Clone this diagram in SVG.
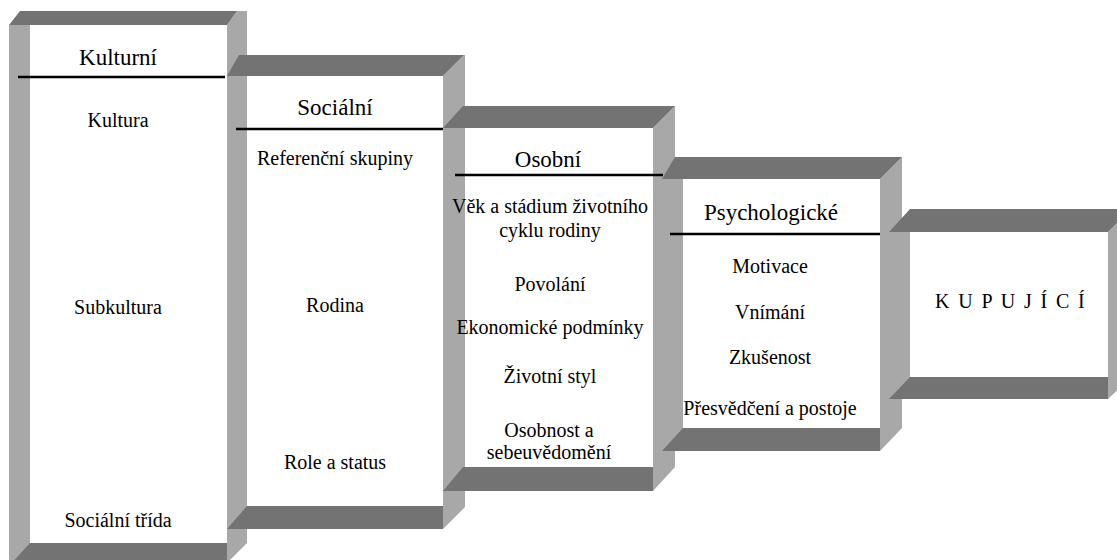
<svg xmlns="http://www.w3.org/2000/svg" width="1117" height="560" viewBox="0 0 1117 560">
<style>
.dk{fill:#737373}
.lt{fill:#a8a8a8}
.hl{stroke:#000;stroke-width:2.5}
text{font-family:'Liberation Serif','Times New Roman',serif;fill:#000}
.t{text-anchor:middle}
.h{font-size:23px}
.b{font-size:20px}
</style>
<rect width="1117" height="560" fill="#fff"/>
<g id="kulturni">
<polygon class="lt" points="9,25 30,25 30,566 9,566"/>
<polygon class="lt" points="227,25 237,11 247,11 247,543 227,563"/>
<polygon class="dk" points="20,11 237,11 227,25 9,25"/>
<polygon class="dk" points="30,543 227,543 227,566 9,566"/>
<line class="hl" x1="18" y1="77" x2="225" y2="77"/>
<text class="t h" x="118" y="65">Kulturní</text>
<text class="t b" x="118" y="127">Kultura</text>
<text class="t b" x="118" y="314">Subkultura</text>
<text class="t b" x="118" y="527">Sociální třída</text>
</g>
<g id="socialni">
<polygon class="lt" points="227,76 247,76 247,529 227,529"/>
<polygon class="lt" points="443,76 464,55 465,55 465,507 443,529"/>
<polygon class="dk" points="239,55 464,55 443,76 227,76"/>
<polygon class="dk" points="247,506 443,506 443,529 227,529"/>
<line class="hl" x1="236" y1="129" x2="443" y2="129"/>
<text class="t h" x="335" y="115">Sociální</text>
<text class="t b" x="335" y="165">Referenční skupiny</text>
<text class="t b" x="335" y="312">Rodina</text>
<text class="t b" x="335" y="469">Role a status</text>
</g>
<g id="osobni">
<polygon class="lt" points="443,128 463,128 463,491 443,491"/>
<polygon class="lt" points="653,128 675,106 675,467 653,491"/>
<polygon class="dk" points="463,106 675,106 653,128 443,128"/>
<polygon class="dk" points="463,467 653,467 653,491 443,491"/>
<line class="hl" x1="455" y1="175" x2="663" y2="175"/>
<text class="t h" x="548" y="167">Osobní</text>
<text class="t b" x="550" y="213">Věk a stádium životního</text>
<text class="t b" x="550" y="237">cyklu rodiny</text>
<text class="t b" x="550" y="291">Povolání</text>
<text class="t b" x="550" y="334">Ekonomické podmínky</text>
<text class="t b" x="550" y="383">Životní styl</text>
<text class="t b" x="549" y="437">Osobnost a</text>
<text class="t b" x="549" y="459">sebeuvědomění</text>
</g>
<g id="psychologicke">
<polygon class="lt" points="662,179 683,179 683,451 662,451"/>
<polygon class="lt" points="880,179 902,157 902,428 880,451"/>
<polygon class="dk" points="675,157 902,157 880,179 662,179"/>
<polygon class="dk" points="683,428 880,428 880,451 662,451"/>
<line class="hl" x1="670" y1="234" x2="880" y2="234"/>
<text class="t h" x="771" y="220">Psychologické</text>
<text class="t b" x="770" y="273">Motivace</text>
<text class="t b" x="770" y="319">Vnímání</text>
<text class="t b" x="770" y="364">Zkušenost</text>
<text class="t b" x="770" y="415">Přesvědčení a postoje</text>
</g>
<g id="kupujici">
<polygon class="lt" points="889,232 910,232 910,399 889,399"/>
<polygon class="lt" points="1108,232 1131,209 1131,377 1108,399"/>
<polygon class="dk" points="910,209 1131,209 1108,232 889,232"/>
<polygon class="dk" points="910,377 1108,377 1108,399 889,399"/>
<text class="b" x="935" y="308" letter-spacing="1.9">K U P U J Í C Í</text>
</g>
</svg>
